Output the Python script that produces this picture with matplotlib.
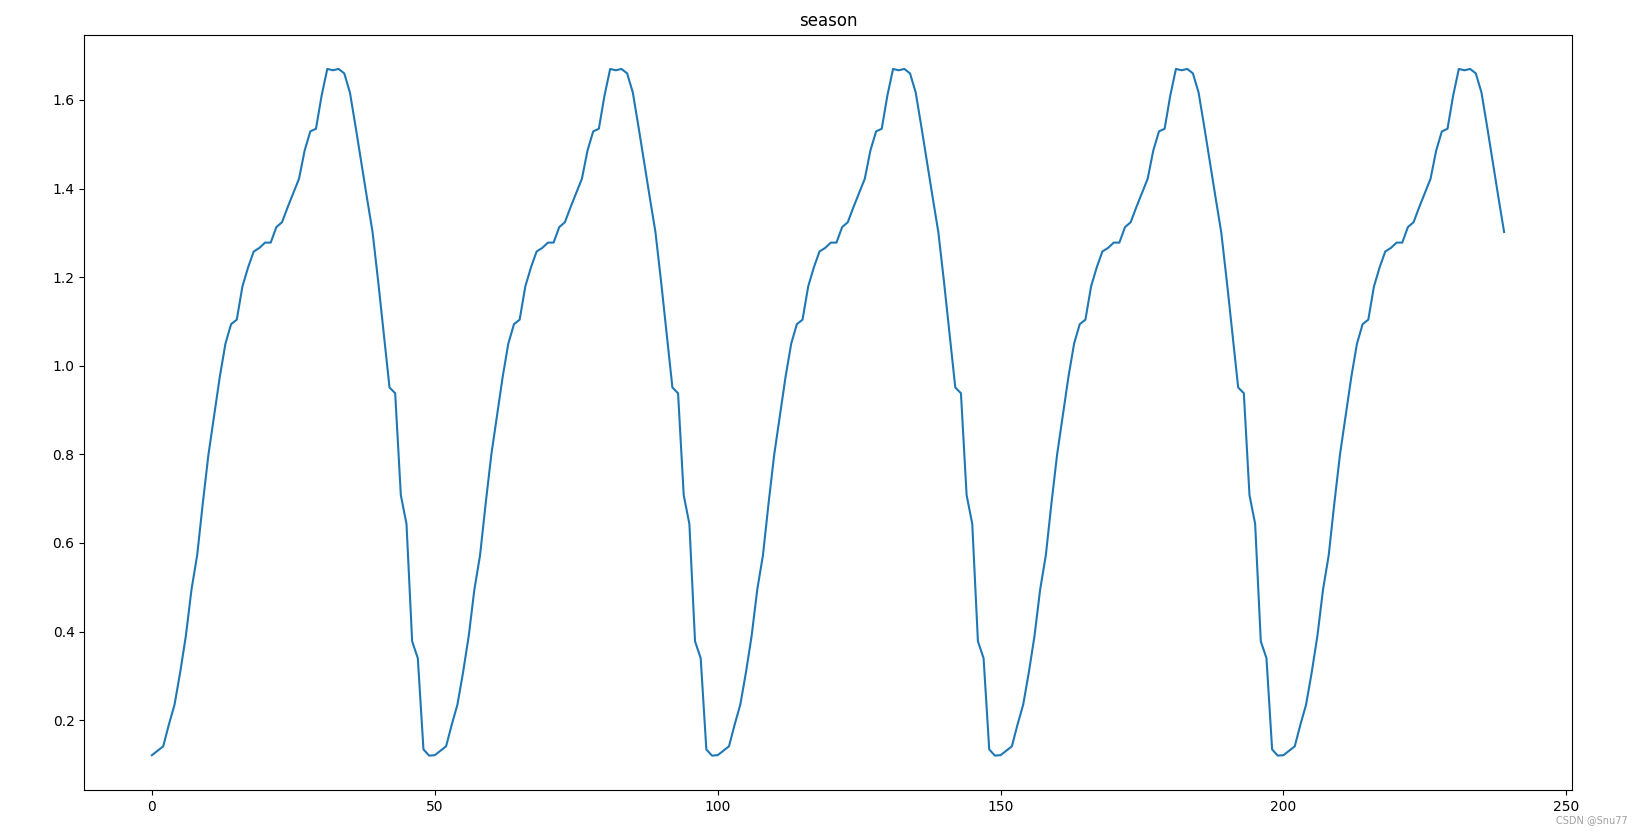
import matplotlib
matplotlib.use("Agg")
import matplotlib.pyplot as plt

# seasonal component (period 50), 240 points
season = [
    0.121, 0.131, 0.141, 0.190, 0.235, 0.308, 0.390, 0.495, 0.572, 0.690,
    0.800, 0.888, 0.975, 1.050, 1.094, 1.104, 1.179, 1.222, 1.258, 1.266,
    1.278, 1.278, 1.313, 1.324, 1.358, 1.390, 1.422, 1.486, 1.529, 1.535,
    1.610, 1.670, 1.667, 1.670, 1.660, 1.617, 1.540, 1.460, 1.380, 1.302,
    1.190, 1.070, 0.951, 0.938, 0.708, 0.643, 0.378, 0.340, 0.134, 0.120,
    0.121, 0.131, 0.141, 0.190, 0.235, 0.308, 0.390, 0.495, 0.572, 0.690,
    0.800, 0.888, 0.975, 1.050, 1.094, 1.104, 1.179, 1.222, 1.258, 1.266,
    1.278, 1.278, 1.313, 1.324, 1.358, 1.390, 1.422, 1.486, 1.529, 1.535,
    1.610, 1.670, 1.667, 1.670, 1.660, 1.617, 1.540, 1.460, 1.380, 1.302,
    1.190, 1.070, 0.951, 0.938, 0.708, 0.643, 0.378, 0.340, 0.134, 0.120,
    0.121, 0.131, 0.141, 0.190, 0.235, 0.308, 0.390, 0.495, 0.572, 0.690,
    0.800, 0.888, 0.975, 1.050, 1.094, 1.104, 1.179, 1.222, 1.258, 1.266,
    1.278, 1.278, 1.313, 1.324, 1.358, 1.390, 1.422, 1.486, 1.529, 1.535,
    1.610, 1.670, 1.667, 1.670, 1.660, 1.617, 1.540, 1.460, 1.380, 1.302,
    1.190, 1.070, 0.951, 0.938, 0.708, 0.643, 0.378, 0.340, 0.134, 0.120,
    0.121, 0.131, 0.141, 0.190, 0.235, 0.308, 0.390, 0.495, 0.572, 0.690,
    0.800, 0.888, 0.975, 1.050, 1.094, 1.104, 1.179, 1.222, 1.258, 1.266,
    1.278, 1.278, 1.313, 1.324, 1.358, 1.390, 1.422, 1.486, 1.529, 1.535,
    1.610, 1.670, 1.667, 1.670, 1.660, 1.617, 1.540, 1.460, 1.380, 1.302,
    1.190, 1.070, 0.951, 0.938, 0.708, 0.643, 0.378, 0.340, 0.134, 0.120,
    0.121, 0.131, 0.141, 0.190, 0.235, 0.308, 0.390, 0.495, 0.572, 0.690,
    0.800, 0.888, 0.975, 1.050, 1.094, 1.104, 1.179, 1.222, 1.258, 1.266,
    1.278, 1.278, 1.313, 1.324, 1.358, 1.390, 1.422, 1.486, 1.529, 1.535,
    1.610, 1.670, 1.667, 1.670, 1.660, 1.617, 1.540, 1.460, 1.380, 1.302,
]
steps = list(range(len(season)))

title = "season"
watermark = "CSDN @Snu77"

fig = plt.figure(figsize=(16.43, 8.34), dpi=100)
ax = fig.add_axes([0.0513, 0.0528, 0.9053, 0.9057])
ax.plot(steps, season, color="#1f77b4", linewidth=1.5)
ax.set_title(title, fontsize=12)

fig.text(0.991, 0.011, watermark, ha="right", va="bottom",
         fontsize=7, color="#a0a0a0")

fig.savefig("out.png", dpi=100)
